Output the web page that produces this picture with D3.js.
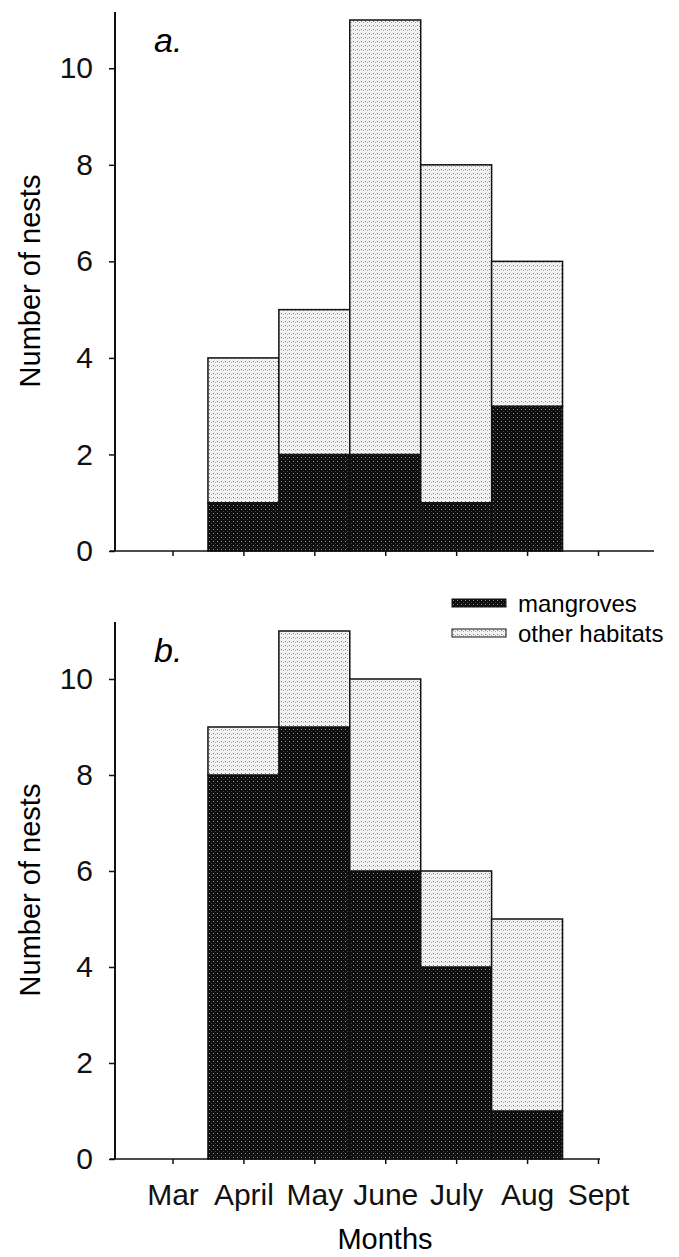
<!DOCTYPE html>
<html>
<head>
<meta charset="utf-8">
<script src="https://cdn.jsdelivr.net/npm/d3@7"></script>
<style>
  body { margin: 0; background: #fff; }
  svg { font-family: 'Liberation Sans', Arial, Helvetica, sans-serif; }
  .tick text { font-size: 30px; fill: #111; }
  .tick line { stroke: #111; stroke-width: 1.5; }
</style>
</head>
<body>
<svg width="679" height="1257"></svg>
<script>
//## DATA ##
const months = ['Mar', 'April', 'May', 'June', 'July', 'Aug', 'Sept']
const mangrovesA = [0, 1, 2, 2, 1, 3, 0]
const otherA = [0, 3, 3, 9, 7, 3, 0]
const mangrovesB = [0, 8, 9, 6, 4, 1, 0]
const otherB = [0, 1, 2, 4, 2, 4, 0]
const yTicks = [0, 2, 4, 6, 8, 10]
const legendLabels = ['mangroves', 'other habitats']

//## SETUP ##
const svg = d3.select('svg')
const scaleX = d3.scalePoint().domain(months).range([172.5, 598])
const barW = scaleX.step()

// stipple patterns to mimic the print screen
const defs = svg.append('defs')
const dark = defs.append('pattern').attr('id', 'dark')
  .attr('patternUnits', 'userSpaceOnUse').attr('width', 4).attr('height', 4)
dark.append('rect').attr('width', 4).attr('height', 4).attr('fill', '#0e0e0e')
dark.append('rect').attr('x', 1).attr('y', 1).attr('width', 1).attr('height', 1).attr('fill', '#8a8a8a')
dark.append('rect').attr('x', 3).attr('y', 3).attr('width', 1).attr('height', 1).attr('fill', '#444')

const light = defs.append('pattern').attr('id', 'light')
  .attr('patternUnits', 'userSpaceOnUse').attr('width', 4).attr('height', 4)
light.append('rect').attr('width', 4).attr('height', 4).attr('fill', '#f2f2f2')
light.append('rect').attr('x', 1).attr('y', 1).attr('width', 1).attr('height', 1).attr('fill', '#777')
light.append('rect').attr('x', 3).attr('y', 2).attr('width', 1).attr('height', 1).attr('fill', '#aaa')

const colors = { mangroves: 'url(#dark)', other: 'url(#light)' }

const drawPanel = function(cfg){
  const scaleY = d3.scaleLinear().domain([0, 11]).range([cfg.y0, cfg.y11])
  const g = svg.append('g')

  const rows = months.map((m, i) => ({ month: m, mangroves: cfg.mangroves[i], other: cfg.other[i] }))
  const stacked = d3.stack().keys(['mangroves', 'other'])(rows)

  g.selectAll('.layer').data(stacked)
    .enter().append('g')
    .attr('class', 'layer')
    .attr('fill', d => colors[d.key])
    .selectAll('rect').data(d => d.filter(s => s[1] > s[0]))
      .enter().append('rect')
        .attr('x', d => scaleX(d.data.month) - barW / 2)
        .attr('y', d => scaleY(d[1]))
        .attr('width', barW)
        .attr('height', d => scaleY(d[0]) - scaleY(d[1]))
        .attr('stroke', '#111')
        .attr('stroke-width', 1.5)

  // axes
  const yAxisGroup = g.append('g')
    .attr('transform', 'translate(115,0)')
    .call(d3.axisLeft(scaleY).tickValues(yTicks).tickSize(6).tickPadding(16))
  yAxisGroup.select('.domain').remove()

  const xAxisGroup = g.append('g')
    .attr('transform', 'translate(0,' + cfg.y0 + ')')
    .call(d3.axisBottom(scaleX).tickSize(5).tickPadding(20))
  xAxisGroup.select('.domain').remove()
  if (!cfg.showMonths) xAxisGroup.selectAll('text').remove()

  g.append('line')
    .attr('x1', 115).attr('x2', 115)
    .attr('y1', cfg.y0).attr('y2', cfg.axisTop)
    .attr('stroke', '#111').attr('stroke-width', 2)
  g.append('line')
    .attr('x1', 110).attr('x2', cfg.axisRight)
    .attr('y1', cfg.y0).attr('y2', cfg.y0)
    .attr('stroke', '#111').attr('stroke-width', 1.5)

  g.append('text')
    .attr('x', 154).attr('y', cfg.labelY)
    .style('font-size', '34px').style('font-style', 'italic')
    .text(cfg.label)

  g.append('text')
    .attr('transform', 'translate(40,' + cfg.titleY + ') rotate(-90)')
    .attr('text-anchor', 'middle')
    .style('font-size', '29px')
    .text('Number of nests')
}

drawPanel({ mangroves: mangrovesA, other: otherA, y0: 551, y11: 20, axisTop: 12, axisRight: 654,
  label: 'a.', labelY: 52, titleY: 281, showMonths: false })
drawPanel({ mangroves: mangrovesB, other: otherB, y0: 1159, y11: 631, axisTop: 622, axisRight: 600,
  label: 'b.', labelY: 662, titleY: 890, showMonths: true })

// x title
svg.append('text')
  .attr('x', 385).attr('y', 1249)
  .attr('text-anchor', 'middle')
  .style('font-size', '29px')
  .text('Months')

// legend
const legend = svg.append('g').selectAll('g').data(legendLabels)
  .enter().append('g')
  .attr('transform', (d, i) => 'translate(452,' + (599 + i * 30) + ')')
legend.append('rect')
  .attr('width', 54).attr('height', 8)
  .attr('fill', (d, i) => i === 0 ? colors.mangroves : colors.other)
  .attr('stroke', '#111').attr('stroke-width', 1)
legend.append('text')
  .attr('x', 66).attr('y', 13)
  .style('font-size', '24px')
  .text(d => d)
</script>
</body>
</html>
